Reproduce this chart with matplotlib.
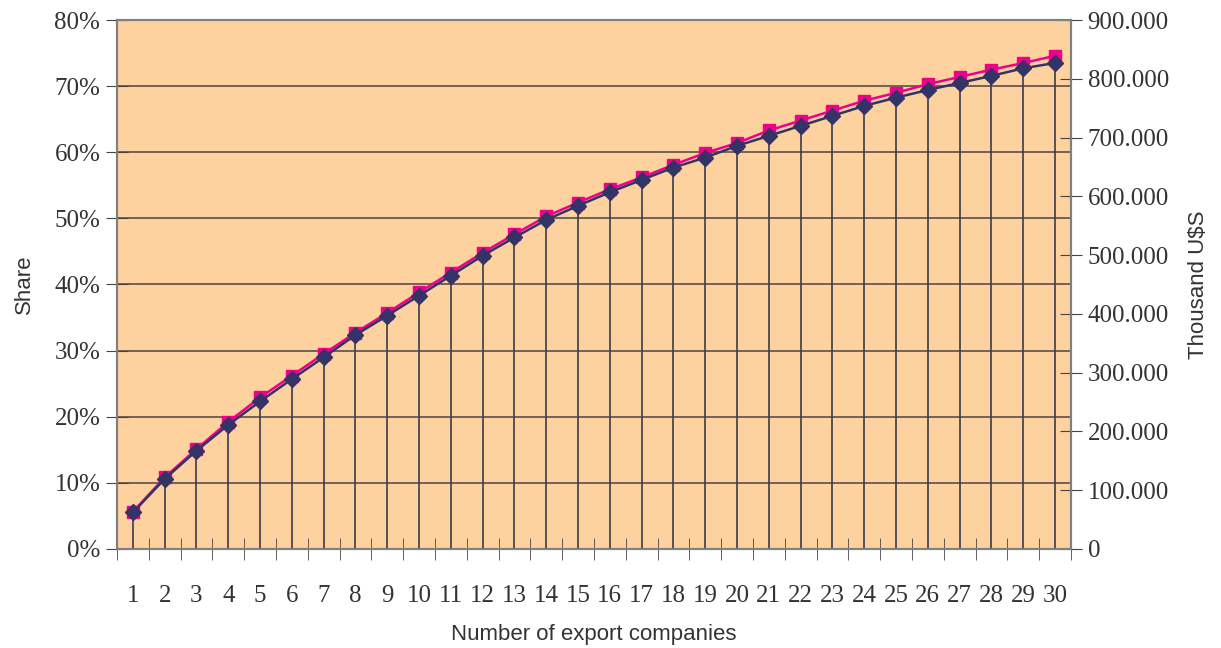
import numpy as np
import matplotlib.pyplot as plt
from matplotlib.ticker import FixedLocator, FuncFormatter

# data
companies = list(range(1, 31))
share = [5.6, 10.8, 15.1, 19.2, 22.9, 26.2, 29.5, 32.7, 35.7, 38.8,
         41.8, 44.8, 47.6, 50.3, 52.4, 54.4, 56.2, 58.1, 59.9, 61.4,
         63.3, 64.8, 66.3, 67.8, 69.0, 70.3, 71.4, 72.5, 73.5, 74.6]
value_k = [62, 119, 167, 211, 251, 289, 326, 364, 397, 431,
           465, 499, 530, 560, 584, 607, 628, 649, 666, 686,
           703, 720, 737, 754, 768, 781, 793, 805, 818, 827]

pink = '#EC008C'
navy = '#333366'
bg = '#FDD29F'
serif = 'Liberation Serif'
sans = 'Liberation Sans'

fig = plt.figure(figsize=(12.21, 6.48), dpi=100)
ax = fig.add_axes([0.0958, 0.153, 0.7813, 0.816])
ax.set_facecolor(bg)
ax2 = ax.twinx()

# gridlines (left axis)
for g in range(10, 80, 10):
    ax.axhline(g, color='#5a5048', lw=1.2, zorder=1)

ax.plot(companies, share, color=pink, lw=1.8, marker='s', ms=8.5,
        markeredgecolor=pink, zorder=3)

# drop lines and the value series on the right axis
ax2.vlines(companies, 0, value_k, color='#3a3a4a', lw=1.2, zorder=2)
ax2.plot(companies, value_k, color=navy, lw=1.8, marker='D', ms=8.5,
         markeredgecolor=navy, zorder=4)

ax.set_xlim(0.5, 30.5)
ax.set_ylim(0, 80)
ax2.set_ylim(0, 900)

ax.set_yticks(range(0, 81, 10))
ax.set_yticklabels([f'{v}%' for v in range(0, 81, 10)], fontfamily=serif, fontsize=18)
ax2.set_yticks(range(0, 901, 100))
ax2.yaxis.set_major_formatter(FuncFormatter(
    lambda v, p: '0' if v == 0 else f'{int(v * 1000):,}'.replace(',', '.')))

ax.set_xticks(companies)
ax.set_xticklabels([str(c) for c in companies], fontfamily=serif, fontsize=18)
ax.xaxis.set_minor_locator(FixedLocator(np.arange(0.5, 31, 1)))
ax.tick_params(axis='x', which='major', length=0, pad=26, colors='#333333')
ax.tick_params(axis='x', which='minor', length=16, direction='inout', color='#444444')
ax.tick_params(axis='y', length=16, direction='inout', color='#444444', labelcolor='#333333', pad=4)
ax2.tick_params(axis='y', length=16, direction='inout', color='#444444', labelcolor='#333333',
                pad=4, labelsize=18)
for lab in ax2.get_yticklabels():
    lab.set_fontfamily(serif)

for a in (ax, ax2):
    for s in a.spines.values():
        s.set_color('#808080')
        s.set_linewidth(1.5)

ax.set_ylabel('Share', fontfamily=sans, fontsize=16, color='#333333', labelpad=14)
ax2.set_ylabel('Thousand U$S', fontfamily=sans, fontsize=16, color='#333333', labelpad=14)
ax.set_xlabel('Number of export companies', fontfamily=sans, fontsize=16,
              color='#333333', labelpad=12)

fig.savefig('out.png', dpi=100)
